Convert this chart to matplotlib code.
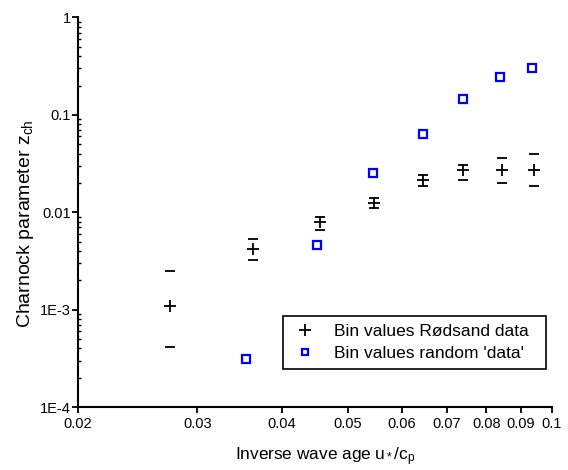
import numpy as np
import matplotlib
matplotlib.use('Agg')
import matplotlib.pyplot as plt
from matplotlib.lines import Line2D
from matplotlib.ticker import FixedLocator, FixedFormatter, LogLocator, NullFormatter

plt.rcParams['font.family'] = ['Liberation Sans', 'DejaVu Sans']
plt.rcParams['mathtext.fontset'] = 'custom'
plt.rcParams['mathtext.rm'] = 'Liberation Sans'
plt.rcParams['mathtext.it'] = 'Liberation Sans:italic'

##################################################################
# Data

# Bin values Rødsand data
xRod = [0.0273, 0.0362, 0.0455, 0.0546, 0.0645, 0.0740, 0.0845, 0.0940]
yRod = [0.00108, 0.00418, 0.0079, 0.0124, 0.0214, 0.0271, 0.0271, 0.0271]
yRodLow = [0.00041, 0.0032, 0.0065, 0.0110, 0.0185, 0.0214, 0.0199, 0.0185]
yRodHigh = [0.00252, 0.0053, 0.0089, 0.0139, 0.0241, 0.0305, 0.0360, 0.0396]

# Bin values random 'data'
xRand = [0.0354, 0.0450, 0.0545, 0.0645, 0.0740, 0.0837, 0.0935]
yRand = [0.00031, 0.0046, 0.0253, 0.0640, 0.145, 0.242, 0.305]

xTicks = [0.02, 0.03, 0.04, 0.05, 0.06, 0.07, 0.08, 0.09, 0.1]
xTickLabels = ['0.02', '0.03', '0.04', '0.05', '0.06', '0.07', '0.08', '0.09', '0.1']
yTicks = [1e-4, 1e-3, 1e-2, 1e-1, 1]
yTickLabels = ['1E-4', '1E-3', '0.01', '0.1', '1']

labelRod = 'Bin values Rødsand data'
labelRand = "Bin values random 'data'"

##################################################################
# Plot

fig = plt.figure(figsize=(5.68, 4.70), dpi=100)
ax = fig.add_axes([0.1373, 0.134, 0.8345, 0.8288])

yErr = [np.array(yRod) - np.array(yRodLow), np.array(yRodHigh) - np.array(yRod)]
line, caps, bars = ax.errorbar(
    xRod, yRod, yerr=yErr,
    fmt='+', color='black', markersize=8, markeredgewidth=1.3,
    capsize=3.8, capthick=1.6, elinewidth=0,
)
for b in bars:
    b.set_visible(False)

ax.plot(xRand, yRand, 's', markersize=5.5, markerfacecolor='white',
        markeredgecolor='#0000ff', markeredgewidth=1.6, linestyle='none')

ax.set_xscale('log')
ax.set_yscale('log')
ax.set_xlim(0.02, 0.1)
ax.set_ylim(1e-4, 1)

ax.xaxis.set_major_locator(FixedLocator(xTicks))
ax.xaxis.set_major_formatter(FixedFormatter(xTickLabels))
ax.xaxis.set_minor_locator(FixedLocator([]))
ax.yaxis.set_major_locator(FixedLocator(yTicks))
ax.yaxis.set_major_formatter(FixedFormatter(yTickLabels))
ax.yaxis.set_minor_locator(LogLocator(base=10, subs=np.arange(2, 10)))
ax.yaxis.set_minor_formatter(NullFormatter())

ax.spines['top'].set_visible(False)
ax.spines['right'].set_visible(False)
ax.spines['left'].set_linewidth(1.5)
ax.spines['bottom'].set_linewidth(1.5)
ax.tick_params(axis='both', which='major', direction='out', length=4, width=1.3,
               labelsize=10.5)
ax.tick_params(axis='x', which='major', pad=3)
ax.tick_params(axis='y', which='major', pad=1)
ax.tick_params(axis='y', which='minor', direction='in', length=2, width=1.0)

ax.set_xlabel('Inverse wave age $\\mathrm{u_*/c_p}$', fontsize=12.4)
ax.set_ylabel('Charnock parameter $\\mathrm{z_{ch}}$', fontsize=14)
ax.xaxis.set_label_coords(0.521, -0.098)
ax.yaxis.set_label_coords(-0.088, 0.47)

# legend handles: only the symbols
handles = [
    Line2D([], [], marker='+', linestyle='none', color='black',
           markersize=8, markeredgewidth=1.3),
    Line2D([], [], marker='s', linestyle='none', markersize=5,
           markerfacecolor='white', markeredgecolor='#0000ff', markeredgewidth=1.6),
]
leg = ax.legend(handles, [labelRod + '  ', labelRand], loc='lower right',
                bbox_to_anchor=(0.987, 0.0976), borderaxespad=0, fontsize=12.5,
                frameon=True, fancybox=False, edgecolor='black', framealpha=1,
                borderpad=0.45, handletextpad=0.85, handlelength=1.6, labelspacing=0.4)
leg.get_frame().set_linewidth(1.2)

fig.savefig('out.png', dpi=100)
